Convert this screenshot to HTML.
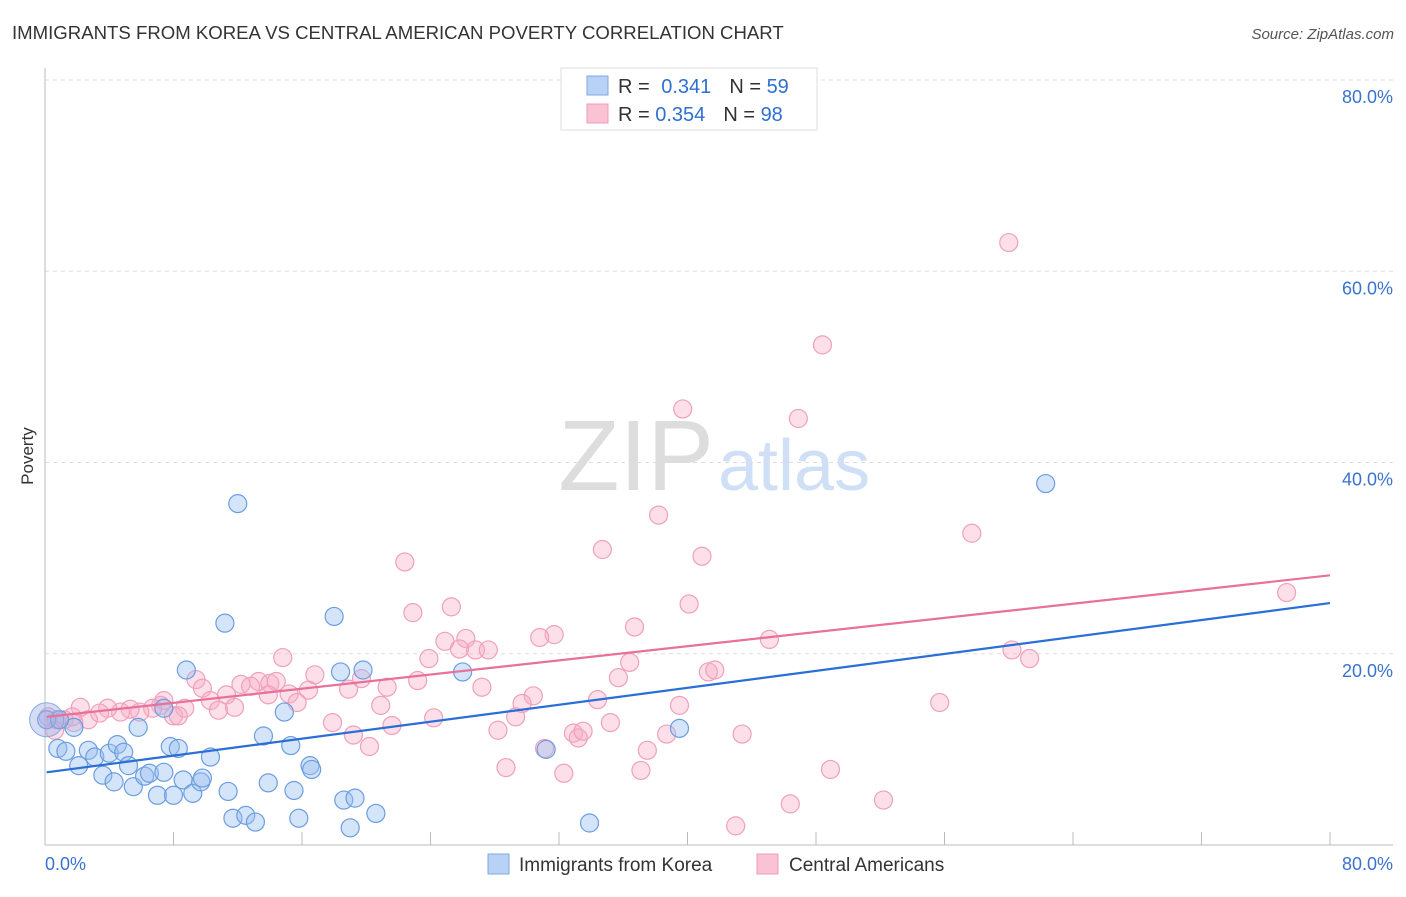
<!DOCTYPE html>
<html><head><meta charset="utf-8"><style>
body{margin:0;background:#fff;font-family:"Liberation Sans",sans-serif}
svg text{font-family:"Liberation Sans",sans-serif}
</style></head><body>
<svg width="1406" height="892">
<text x="12" y="39" font-size="18.6" fill="#333">IMMIGRANTS FROM KOREA VS CENTRAL AMERICAN POVERTY CORRELATION CHART</text>
<text x="1394" y="39" font-size="15" fill="#555" font-style="italic" text-anchor="end">Source: ZipAtlas.com</text>
<text x="714" y="490" font-size="100" fill="#ddd" text-anchor="end" font-family="Liberation Serif">ZIP</text>
<text x="718" y="490" font-size="72" fill="#cfdff5">atlas</text>
<text x="33" y="456" font-size="17" fill="#333" text-anchor="middle" transform="rotate(-90 33 456)">Poverty</text>
<g id="grid"></g><g id="axes"></g><g id="pts"></g><g id="lines"></g>
<g>
<rect x="561" y="68" width="256" height="62" fill="#fff" stroke="#ddd"/>
<rect x="587" y="76" width="21" height="19" fill="#b8d2f5" stroke="#7ea8e0"/>
<rect x="587" y="104" width="21" height="19" fill="#f9c3d4" stroke="#f09ab6"/>
<text x="618" y="93" font-size="20" fill="#333">R = <tspan fill="#2f6fd0" dx="6">0.341</tspan><tspan fill="#333" dx="18">N = </tspan><tspan fill="#2f6fd0">59</tspan></text>
<text x="618" y="121" font-size="20" fill="#333">R = <tspan fill="#2f6fd0">0.354</tspan><tspan fill="#333" dx="18">N = </tspan><tspan fill="#2f6fd0">98</tspan></text>
</g>
<g>
<rect x="488" y="854" width="21" height="20" fill="#b8d2f5" stroke="#7ea8e0"/>
<text x="519" y="871" font-size="19" fill="#333">Immigrants from Korea</text>
<rect x="757" y="854" width="21" height="20" fill="#f9c3d4" stroke="#f09ab6"/>
<text x="789" y="871" font-size="19" fill="#333">Central Americans</text>
</g>
</svg>
<script>
const yTicks=[20,40,60,80];
const yTickLabels=["20.0%","40.0%","60.0%","80.0%"];
const koreaX=[0.1,12.0,11.2,18.0,8.8,18.4,19.8,26.0,62.3,39.5,31.2,33.9,0.8,1.3,1.8,2.1,2.7,3.1,3.6,4.0,4.3,4.5,4.9,5.2,5.5,5.8,6.2,6.5,7.0,7.4,7.8,8.0,8.3,8.6,9.2,9.7,9.8,10.3,11.4,11.7,12.5,13.1,13.6,13.9,14.9,15.3,15.5,15.8,16.5,16.6,18.6,19.0,19.3,20.6,7.4,0.9];
const koreaY=[13.1,35.7,23.2,23.9,18.3,18.1,18.3,18.1,37.8,12.2,10.0,2.3,10.1,9.8,12.3,8.3,9.9,9.2,7.3,9.6,6.6,10.5,9.7,8.3,6.1,12.3,7.2,7.5,5.2,7.6,10.3,5.2,10.1,6.8,5.4,6.6,7.0,9.2,5.6,2.8,3.1,2.4,11.4,6.5,13.9,10.4,5.7,2.8,8.3,7.9,4.7,1.8,4.9,3.3,14.3,13.1];
const centralX=[60.0,48.4,39.7,46.9,38.2,34.7,40.9,22.4,57.7,77.3,40.1,22.9,25.3,36.7,31.7,30.8,26.2,26.8,27.6,45.1,24.9,25.8,60.2,61.3,36.4,23.9,41.3,41.7,35.7,14.8,16.8,13.3,9.4,9.8,12.2,14.0,14.4,12.8,16.4,18.9,19.7,21.3,23.2,27.2,30.4,29.7,34.4,15.2,15.7,13.9,11.3,10.3,10.8,11.8,7.2,7.4,6.7,8.7,8.0,8.3,5.9,5.3,4.7,3.9,3.4,2.7,2.2,1.7,1.2,0.7,0.2,1.8,20.9,55.7,39.5,24.2,29.3,35.2,17.9,21.6,19.2,20.2,28.2,32.9,33.2,33.5,38.7,43.4,37.5,31.1,28.7,32.3,37.1,48.9,46.4,52.2,43.0,0.6];
const centralY=[63.0,52.3,45.6,44.6,34.5,30.9,30.2,29.6,32.6,26.4,25.2,24.3,24.9,22.8,22.0,21.7,21.6,20.4,20.4,21.5,21.3,20.5,20.4,19.5,19.1,19.5,18.1,18.3,17.5,19.6,17.8,17.1,17.3,16.4,16.8,16.9,17.1,16.6,16.2,16.3,17.4,16.5,17.2,16.5,15.6,14.8,15.2,15.8,14.9,15.7,15.7,15.1,14.1,14.4,14.6,15.1,14.3,14.3,13.5,13.5,13.9,14.2,13.9,14.3,13.8,13.1,14.4,13.4,13.1,13.1,13.4,12.8,14.6,14.9,14.6,13.3,13.4,12.8,12.8,12.5,11.5,10.3,12.0,11.7,11.2,11.9,11.6,11.6,9.9,10.1,8.1,7.5,7.8,7.9,4.3,4.7,2.0,12.0];
const koreaTrend=[7.6,25.3];
const centralTrend=[13.4,28.2];
const X0=45,X1=1330,Y0=845,YT=80;
const sx=v=>X0+(X1-X0)*v/80, sy=v=>Y0-(Y0-YT)*v/80;
const NS="http://www.w3.org/2000/svg";
function mk(t,a,p){const e=document.createElementNS(NS,t);for(const k in a)e.setAttribute(k,a[k]);p.appendChild(e);return e;}
const grid=document.getElementById('grid'),axes=document.getElementById('axes'),pts=document.getElementById('pts'),lines=document.getElementById('lines');
yTicks.forEach((t,i)=>{
 const l=mk('line',{x1:X0,x2:1393,y1:sy(t),y2:sy(t),stroke:'#ddd','stroke-dasharray':'4 4'},grid);
 
 
 const tx=mk('text',{x:1393,y:sy(t)+23,'font-size':18,fill:'#3a72d0','text-anchor':'end'},grid);
 tx.textContent=yTickLabels[i];
 
 
});
const ya=mk('line',{x1:X0,x2:X0,y1:68,y2:Y0,stroke:'#bbb'},axes);


const xa=mk('line',{x1:X0,x2:1393,y1:Y0,y2:Y0,stroke:'#bbb'},axes);


for(let v=8;v<=80;v+=8){const t=mk('line',{x1:sx(v),x2:sx(v),y1:Y0-13,y2:Y0,stroke:'#bbb'},axes);
 
 }
const xl0=mk('text',{x:45,y:870,'font-size':18,fill:'#3a72d0'},axes);xl0.textContent='0.0%';


const xl1=mk('text',{x:1393,y:870,'font-size':18,fill:'#3a72d0','text-anchor':'end'},axes);xl1.textContent='80.0%';


function dots(xs,ys,fill,stroke,name){xs.forEach((x,i)=>{
 const c=mk('circle',{cx:sx(x),cy:sy(ys[i]),r:9,fill:fill,stroke:stroke,'stroke-width':1.2},pts);
 
 });}
dots(centralX,centralY,'rgba(246,170,196,0.38)','#f0a0bb','central-american-point');
dots(koreaX,koreaY,'rgba(150,190,240,0.4)','#6b9de0','korea-point');
const big=mk('circle',{cx:sx(0.1),cy:sy(13.1),r:17,fill:'rgba(150,170,230,0.4)',stroke:'#8aa8e0'},pts);


function trend(tr,col,name){const l=mk('line',{x1:sx(0.1),y1:sy(tr[0]),x2:sx(80),y2:sy(tr[1]),stroke:col,'stroke-width':2.2},lines);
 
 }
trend(koreaTrend,'#2a6fd6','korea-trendline');
trend(centralTrend,'#e8719b','central-trendline');
</script>
</body></html>
